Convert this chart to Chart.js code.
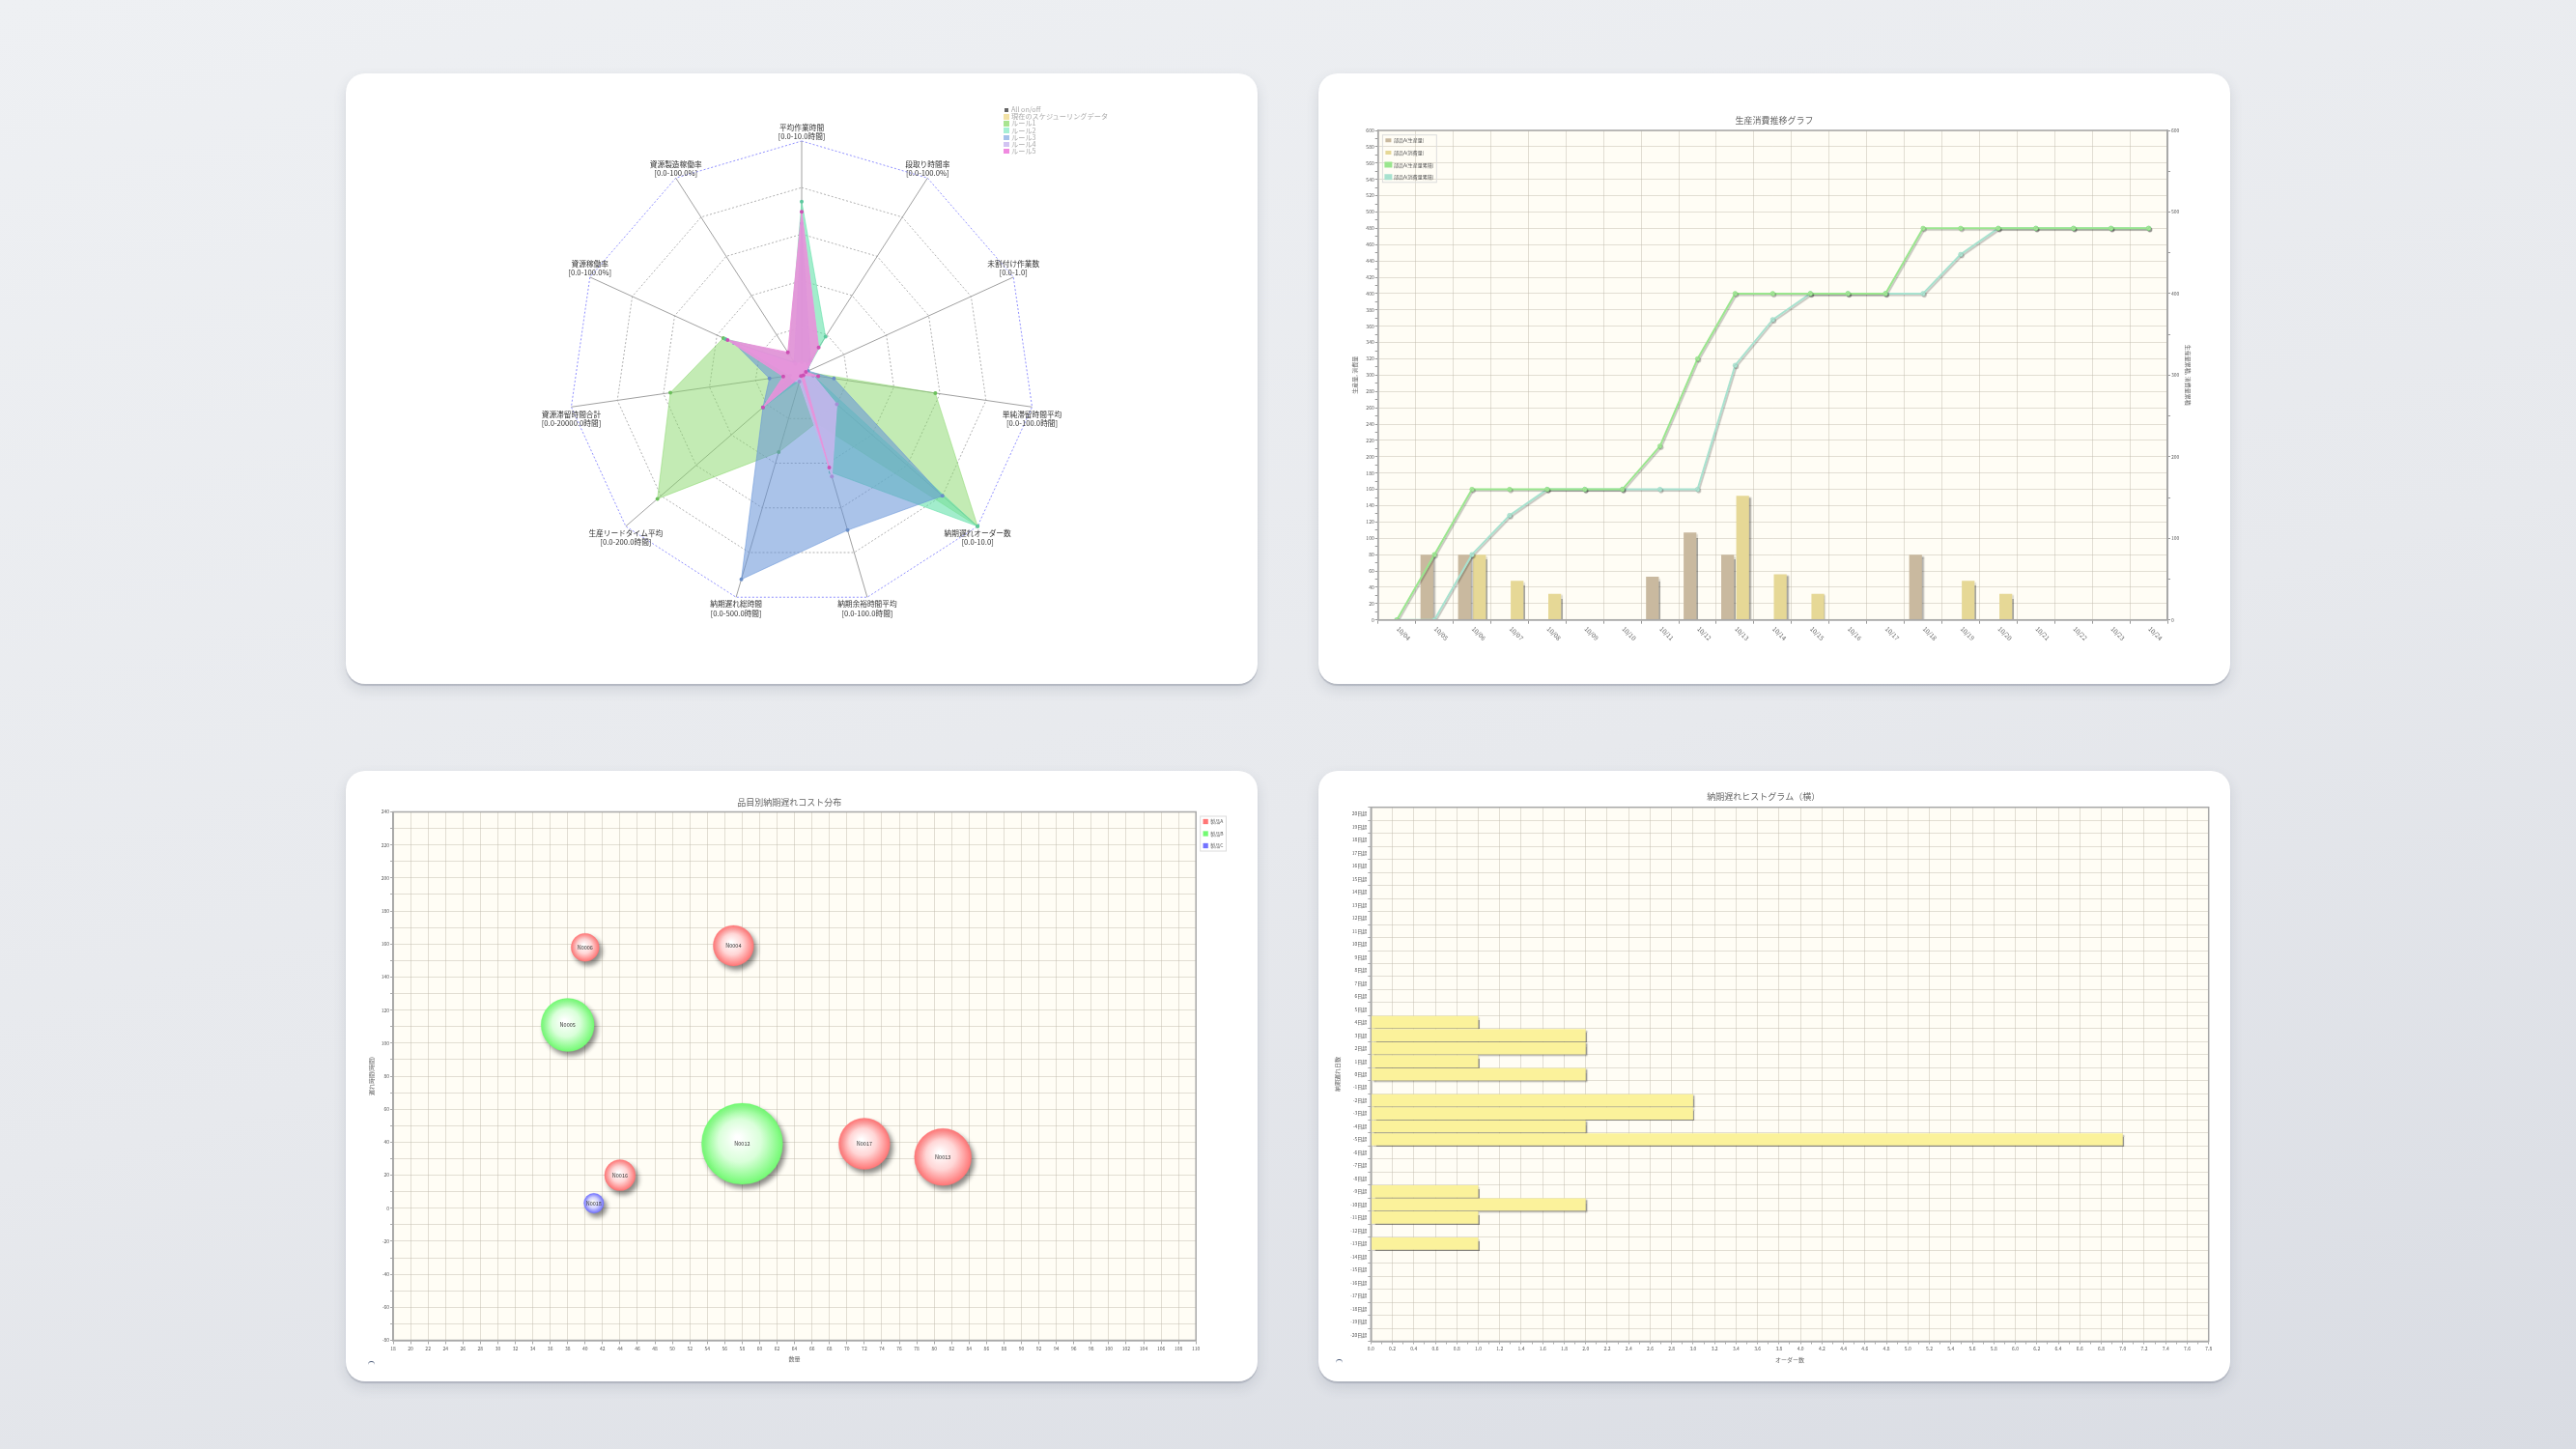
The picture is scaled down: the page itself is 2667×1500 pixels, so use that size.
<!DOCTYPE html>
<html><head><meta charset="utf-8">
<script src="https://cdn.jsdelivr.net/npm/chart.js@4.4.1/dist/chart.umd.min.js"></script>
<style>
html,body{margin:0;padding:0;}
body{width:2667px;height:1500px;position:relative;overflow:hidden;background:linear-gradient(165deg,#eef0f3 0%,#e7e9ed 55%,#d9dce3 100%);font-family:'Noto Sans CJK JP','Noto Sans',sans-serif;}
.card{position:absolute;width:944px;height:632px;background:#fff;border-radius:20px;box-shadow:0 2px 1px rgba(120,126,142,.35),0 6px 14px rgba(60,70,90,.14);}
.box{position:absolute;}
.rlegend{position:absolute;left:681px;top:34px;font-size:7.2px;line-height:7.2px;color:#a9a9a9;white-space:nowrap;}
.rlegend div{height:7.2px;display:flex;align-items:center;}
.rlegend span.sw{display:inline-block;width:6px;height:5.5px;margin-right:2px;}
.spin{position:absolute;width:7px;height:7px;border-radius:50%;border-top:1.5px solid #4a5a78;}
</style>
</head><body>
<div class="card" style="left:358px;top:76px;">
  <div class="box" style="left:0;top:0;width:944px;height:632px;"><canvas id="c1"></canvas></div>
  <div class="rlegend" id="rlegend"></div>
</div>
<div class="card" style="left:1365px;top:76px;">
  <div class="box" style="left:0;top:0;width:944px;height:632px;"><canvas id="c2"></canvas></div>
</div>
<div class="card" style="left:358px;top:798px;">
  <div class="box" style="left:0;top:0;width:944px;height:632px;"><canvas id="c3"></canvas></div>
  <div class="spin" style="left:23px;top:611px;"></div>
</div>
<div class="card" style="left:1365px;top:798px;">
  <div class="box" style="left:0;top:0;width:944px;height:632px;"><canvas id="c4"></canvas></div>
  <div class="spin" style="left:18px;top:609px;"></div>
</div>
<script>
// ---------------- DATA ----------------
// Radar (top-left)
const radarAxes = [
  ['平均作業時間','[0.0-10.0時間]'],
  ['段取り時間率','[0.0-100.0%]'],
  ['未割付け作業数','[0.0-1.0]'],
  ['単純滞留時間平均','[0.0-100.0時間]'],
  ['納期遅れオーダー数','[0.0-10.0]'],
  ['納期余裕時間平均','[0.0-100.0時間]'],
  ['納期遅れ総時間','[0.0-500.0時間]'],
  ['生産リードタイム平均','[0.0-200.0時間]'],
  ['資源滞留時間合計','[0.0-20000.0時間]'],
  ['資源稼働率','[0.0-100.0%]'],
  ['資源製造稼働率','[0.0-100.0%]']
];
const radarAxisMax = [10, 100, 1, 100, 10, 100, 500, 200, 20000, 100, 100];
const radarSeriesNames = ['現在のスケジューリングデータ','ルール1','ルール2','ルール3','ルール4','ルール5'];
const currentSchedule = [0, 0, 0, 0, 0, 0, 0, 0, 0, 0, 0];
const rule1 = [0.4, 3, 0.02, 58, 10, 22, 175, 164, 11400, 37, 5];
const rule2 = [7.4, 19, 0.02, 5, 10, 44, 15, 44, 1000, 36, 10];
const rule3 = [6.45, 7, 0.03, 14, 8, 70, 460, 44, 2800, 32, 6];
const rule4 = [0.5, 5, 0.02, 5, 2, 46, 17.5, 10, 1000, 30, 5];
const rule5 = [6.96, 13.5, 0.02, 7.2, 0.1, 42, 5, 44, 1600, 35, 11];

// Production / consumption (top-right)
const dates = ['10/04','10/05','10/06','10/07','10/08','10/09','10/10','10/11','10/12','10/13','10/14','10/15','10/16','10/17','10/18','10/19','10/20','10/21','10/22','10/23','10/24'];
const producedA   = [0, 80, 80, 0, 0, 0, 0, 53, 107, 80, 0, 0, 0, 0, 80, 0, 0, 0, 0, 0, 0];
const consumedA   = [0, 0, 80, 48, 32, 0, 0, 0, 0, 152, 56, 32, 0, 0, 0, 48, 32, 0, 0, 0, 0];
const producedCum = [0, 80, 160, 160, 160, 160, 160, 213, 320, 400, 400, 400, 400, 400, 480, 480, 480, 480, 480, 480, 480];
const consumedCum = [0, 0, 80, 128, 160, 160, 160, 160, 160, 312, 368, 400, 400, 400, 400, 448, 480, 480, 480, 480, 480];

// Bubble (bottom-left)
const productANames = ['N0006','N0004','N0017','N0013','N0016'];
const productAQty   = [40, 57, 72, 81, 44];
const productADelay = [158, 159, 39, 31, 20];
const productASize  = [14.5, 21, 26.5, 29.5, 16];
const productBNames = ['N0005','N0012'];
const productBQty   = [38, 58];
const productBDelay = [111, 39];
const productBSize  = [27.5, 42];
const productCNames = ['N0018'];
const productCQty   = [41];
const productCDelay = [3];
const productCSize  = [10.3];

// Histogram (bottom-right)
const delayBins = ['20日超','19日超','18日超','17日超','16日超','15日超','14日超','13日超','12日超','11日超','10日超','9日超','8日超','7日超','6日超','5日超','4日超','3日超','2日超','1日超','0日超','-1日超','-2日超','-3日超','-4日超','-5日超','-6日超','-7日超','-8日超','-9日超','-10日超','-11日超','-12日超','-13日超','-14日超','-15日超','-16日超','-17日超','-18日超','-19日超','-20日超'];
const orderCounts = [0,0,0,0,0,0,0,0,0,0,0,0,0,0,0,0,1,2,2,1,2,0,3,3,2,7,0,0,0,1,2,1,0,1,0,0,0,0,0,0,0];

// ---------------- SETUP ----------------
const FAM = "'Noto Sans CJK JP','Noto Sans',sans-serif";
Chart.defaults.font.family = FAM;
Chart.defaults.color = '#555';
Chart.defaults.animation = false;
const GRID = 'rgba(190,185,170,0.45)';

const plotFrame = {
  id:'plotFrame',
  beforeDraw(chart, a, o){ if(!o || !o.on) return; const {ctx, chartArea:c} = chart; ctx.save(); ctx.fillStyle = '#fffdf5'; ctx.fillRect(c.left, c.top, c.width, c.height); ctx.restore(); },
  afterDraw(chart, a, o){ if(!o || !o.on) return; const {ctx, chartArea:c} = chart; ctx.save(); ctx.strokeStyle = '#a8a8a8'; ctx.lineWidth = 1.5; ctx.strokeRect(c.left, c.top, c.width, c.height); ctx.restore(); }
};
const shadow = {
  id:'shadow',
  beforeDatasetDraw(chart, a, o){ if(!o || !o.on) return; const ds = chart.data.datasets[a.index] || {}; const s = Object.assign({}, o, ds.shadow || {}); const ctx = chart.ctx; ctx.save(); ctx.shadowColor = s.color; ctx.shadowOffsetX = s.x; ctx.shadowOffsetY = s.y; ctx.shadowBlur = s.blur; },
  afterDatasetDraw(chart, a, o){ if(!o || !o.on) return; chart.ctx.restore(); }
};
const legendBox = {
  id:'legendBox',
  afterDraw(chart, a, o){ if(!o || !o.on || !chart.legend || !chart.legend.legendHitBoxes) return; const hb = chart.legend.legendHitBoxes; if(!hb.length) return;
    let l=Infinity,t=Infinity,r=-Infinity,b=-Infinity; hb.forEach(h=>{l=Math.min(l,h.left);t=Math.min(t,h.top);r=Math.max(r,h.left+h.width);b=Math.max(b,h.top+h.height);});
    const ctx=chart.ctx; ctx.save(); ctx.strokeStyle='#dcdcdc'; ctx.lineWidth=1; ctx.strokeRect(l-o.padL, t-o.padT, r-l+o.padL+o.padR, b-t+o.padT+o.padB); ctx.restore(); }
};
const legendInArea = {
  id:'legendInArea',
  afterLayout(chart, a, o){ if(!o || !o.on || !chart.legend) return; const L = chart.legend, c = chart.chartArea; L.left = c.left; L.right = c.right; L.top = c.top; L.bottom = c.bottom; }
};
const rotLabels = {
  id:'rotLabels',
  afterDraw(chart, a, o){ if(!o || !o.on) return; const sx = chart.scales.x, ctx = chart.ctx; ctx.save(); ctx.font = '6.5px ' + FAM; ctx.fillStyle = '#666'; ctx.textAlign='left'; ctx.textBaseline='middle';
    chart.data.labels.forEach((lab,i)=>{ const x = sx.getPixelForTick(i); ctx.save(); ctx.translate(x+1, chart.chartArea.bottom+8); ctx.rotate(Math.PI/4); ctx.fillText(lab,0,0); ctx.restore(); });
    ctx.restore(); }
};
const bubbleNames = {
  id:'bubbleNames',
  afterDatasetsDraw(chart, a, o){ if(!o || !o.on) return; const ctx = chart.ctx; ctx.save(); ctx.font='5.5px '+FAM; ctx.fillStyle='#333'; ctx.textAlign='center'; ctx.textBaseline='middle';
    chart.data.datasets.forEach((ds,di)=>{ chart.getDatasetMeta(di).data.forEach((el,i)=>{ ctx.fillText(ds.names[i], el.x, el.y); }); });
    ctx.restore(); }
};
const radarLabels = {
  id:'radarLabels',
  afterDraw(chart, a, o){ if(!o || !o.on) return; const s = chart.scales.r, ctx = chart.ctx; ctx.save(); ctx.font = '7.7px ' + FAM; ctx.fillStyle = '#333'; ctx.textAlign='center'; ctx.textBaseline='middle';
    chart.data.labels.forEach((lines,i)=>{ const p = s.getPointPosition(i, s.drawingArea); const up = p.y < s.yCenter - 1; const n = lines.length;
      lines.forEach((t,j)=>{ const y = up ? p.y - 4.7 - (n-1-j)*9.3 : p.y + 7.3 + j*9.3; ctx.fillText(t, p.x, y); }); });
    ctx.restore(); }
};

// ---------------- RADAR ----------------
const radarFill   = ['rgba(240,220,140,0.55)','rgba(135,215,105,0.5)','rgba(100,225,170,0.6)','rgba(100,145,215,0.55)','rgba(198,182,238,0.88)','rgba(232,146,218,0.92)'];
const radarPoint  = ['#d8c070','#6cbf5c','#5cc89e','#6a8fc8','#a48ed6','#cc4fb4'];
const radarSwatch = ['#f2e2a6','#a8e490','#a6f0d4','#a6c2ea','#d2c4f2','#f08ae0'];
const radarRaw = [currentSchedule, rule1, rule2, rule3, rule4, rule5];
const radarOrder = [5, 4, 3, 2, 1, 0];
new Chart(document.getElementById('c1'), {
  type:'radar',
  data:{
    labels: radarAxes,
    datasets: radarSeriesNames.map((name, k) => ({
      label: name,
      data: radarRaw[k].map((v,i)=> v / radarAxisMax[i]),
      backgroundColor: radarFill[k],
      borderColor: radarFill[k],
      borderWidth: 1,
      pointBackgroundColor: radarPoint[k],
      pointBorderColor: radarPoint[k],
      pointRadius: 2,
      pointBorderWidth: 0,
      fill: true,
      order: radarOrder[k]
    }))
  },
  options:{
    responsive:true, maintainAspectRatio:false, animation:false, events:[],
    layout:{padding:{left:231, right:230, top:69.5, bottom:79.5}},
    plugins:{legend:{display:false}, tooltip:{enabled:false}, radarLabels:{on:true}},
    scales:{
      r:{
        min:0, max:1,
        ticks:{display:false, stepSize:0.2},
        grid:{color:(c)=> c.index===5 ? 'rgba(110,110,255,0.75)' : '#b0b0b0', lineWidth:1},
        border:{dash:[2,2]},
        angleLines:{color:'#a0a0a0', lineWidth:1},
        pointLabels:{display:false}
      }
    }
  },
  plugins:[radarLabels]
});
// radar legend (HTML)
(function(){
  const el = document.getElementById('rlegend');
  let h = '<div><span class="sw" style="width:4px;height:4px;background:#666;margin-left:1px;margin-right:3px"></span>All on/off</div>';
  radarSeriesNames.forEach((n,k)=>{ h += '<div><span class="sw" style="background:'+radarSwatch[k]+'"></span>'+n+'</div>'; });
  el.innerHTML = h;
})();

// ---------------- PRODUCTION / CONSUMPTION ----------------
const lineShadow = {color:'rgba(0,0,0,0.22)', x:1.3, y:1.5, blur:0.8};
new Chart(document.getElementById('c2'), {
  type:'bar',
  data:{
    labels: dates,
    datasets:[
      {label:'部品A(生産量)', data: producedA, backgroundColor:'#c9b99f', order:1, yAxisID:'y', barPercentage:0.85},
      {label:'部品A(消費量)', data: consumedA, backgroundColor:'#e6d896', order:1, yAxisID:'y', barPercentage:0.85},
      {type:'line', label:'部品A(生産量累積)', data: producedCum, borderColor:'#9ae68e', backgroundColor:'#9ae68e', pointBackgroundColor:'#a6ec9a', pointBorderColor:'#8ad87e', pointBorderWidth:0.5, pointRadius:2.3, borderWidth:2, tension:0, order:0, yAxisID:'y2', shadow:lineShadow},
      {type:'line', label:'部品A(消費量累積)', data: consumedCum, borderColor:'#a8e2cf', backgroundColor:'#a8e2cf', pointBackgroundColor:'#b2e8d6', pointBorderColor:'#96d4c0', pointBorderWidth:0.5, pointRadius:2.3, borderWidth:2, tension:0, order:0, yAxisID:'y2', shadow:lineShadow}
    ]
  },
  options:{
    responsive:true, maintainAspectRatio:false, animation:false, events:[],
    layout:{padding:0},
    plugins:{
      title:{display:true, text:'生産消費推移グラフ', color:'#666', font:{size:9, weight:'normal', lineHeight:1.2}, padding:{top:43.6, bottom:4.6}},
      legend:{position:'chartArea', align:'start', labels:{boxWidth:6, boxHeight:4, font:{size:5}, padding:7.7, color:'#555', sort:(a,b)=>a.datasetIndex-b.datasetIndex}},
      tooltip:{enabled:false},
      plotFrame:{on:true},
      shadow:{on:true, color:'rgba(0,0,0,0.35)', x:1.8, y:1.8, blur:1.5},
      rotLabels:{on:true},
      legendInArea:{on:true},
      legendBox:{on:true, padL:3, padR:3, padT:3, padB:3}
    },
    scales:{
      x:{
        grid:{color:GRID, tickColor:'#999', tickLength:4},
        border:{color:'#999', width:1.5},
        ticks:{display:false},
        afterFit:(s)=>{ s.height = 66.3; }
      },
      y:{
        position:'left', min:0, max:600,
        ticks:{stepSize:10, autoSkip:false, font:{size:5}, color:'#555', padding:1, callback:(v)=> v%20===0 ? v : ''},
        grid:{color:(c)=> (c.tick && c.tick.value%20!==0) ? 'rgba(0,0,0,0)' : GRID, tickColor:'#999', tickLength:3},
        border:{color:'#999', width:1.5},
        title:{display:true, text:'生産量, 消費量', color:'#666', font:{size:6}, padding:{top:34.4, bottom:0}},
        afterFit:(s)=>{ s.width = 61.7; }
      },
      y2:{
        position:'right', min:0, max:600,
        ticks:{stepSize:50, autoSkip:false, font:{size:5}, color:'#555', padding:1, callback:(v)=> v%100===0 ? v : ''},
        grid:{drawOnChartArea:false, tickColor:'#999', tickLength:3},
        border:{color:'#999', width:1.5},
        title:{display:true, text:'生産量累積, 消費量累積', color:'#666', font:{size:6}, padding:{top:40.4, bottom:0}},
        afterFit:(s)=>{ s.width = 65; }
      }
    }
  },
  plugins:[plotFrame, shadow, rotLabels, legendInArea, legendBox]
});

// ---------------- BUBBLE ----------------
function bubbleFill(base, light){
  return (c) => {
    const chart = c.chart;
    if (c.type !== 'data' || !c.raw || !chart.chartArea) return base;
    const x = chart.scales.x.getPixelForValue(c.raw.x), y = chart.scales.y.getPixelForValue(c.raw.y), r = c.raw.r;
    const g = chart.ctx.createRadialGradient(x - r*0.12, y - r*0.15, r*0.05, x, y, r);
    g.addColorStop(0, '#ffffff');
    g.addColorStop(0.5, light);
    g.addColorStop(1, base);
    return g;
  };
}
function pts(q, d, s){ return q.map((v,i)=>({x:v, y:d[i], r:s[i]})); }
new Chart(document.getElementById('c3'), {
  type:'bubble',
  data:{
    datasets:[
      {label:'製品A', names: productANames, data: pts(productAQty, productADelay, productASize), backgroundColor: bubbleFill('rgb(255,118,118)','rgb(255,214,214)'), borderColor:'rgba(255,118,118,0.6)', borderWidth:0.5},
      {label:'製品B', names: productBNames, data: pts(productBQty, productBDelay, productBSize), backgroundColor: bubbleFill('rgb(115,250,115)','rgb(218,255,218)'), borderColor:'rgba(115,250,115,0.6)', borderWidth:0.5},
      {label:'製品C', names: productCNames, data: pts(productCQty, productCDelay, productCSize), backgroundColor: bubbleFill('rgb(115,115,255)','rgb(214,214,255)'), borderColor:'rgba(115,115,255,0.6)', borderWidth:0.5}
    ]
  },
  options:{
    responsive:true, maintainAspectRatio:false, animation:false, events:[],
    layout:{padding:{right:25.5}},
    plugins:{
      title:{display:true, text:'品目別納期遅れコスト分布', color:'#666', font:{size:9, weight:'normal', lineHeight:1.2}, padding:{top:22.6, bottom:4.3}},
      legend:{position:'right', align:'start', fullSize:false, labels:{boxWidth:5, boxHeight:5, font:{size:5}, padding:7.5, color:'#555'}},
      tooltip:{enabled:false},
      plotFrame:{on:true},
      shadow:{on:true, color:'rgba(0,0,0,0.45)', x:3, y:4, blur:5},
      bubbleNames:{on:true},
      legendBox:{on:true, padL:3, padR:3, padT:3, padB:3}
    },
    scales:{
      x:{
        min:18, max:110,
        ticks:{stepSize:2, autoSkip:false, maxRotation:0, font:{size:5}, color:'#555', padding:1.7},
        grid:{color:GRID, tickColor:'#aaa', tickLength:4},
        border:{color:'#999', width:1.5},
        title:{display:true, text:'数量', color:'#666', font:{size:6}, padding:{top:0, bottom:18.4}},
        afterFit:(s)=>{ s.height = 41.5; }
      },
      y:{
        min:-80, max:240,
        ticks:{stepSize:10, autoSkip:false, font:{size:5}, color:'#555', padding:1, callback:(v)=> v%20===0 ? v : ''},
        grid:{color:GRID, tickColor:'#aaa', tickLength:3},
        border:{color:'#999', width:1.5},
        title:{display:true, text:'遅れ時間(時間)', color:'#666', font:{size:6}, padding:{top:23.1, bottom:0}},
        afterFit:(s)=>{ s.width = 49; }
      }
    }
  },
  plugins:[plotFrame, shadow, bubbleNames, legendBox]
});

// ---------------- HISTOGRAM ----------------
new Chart(document.getElementById('c4'), {
  type:'bar',
  data:{
    labels: delayBins,
    datasets:[{label:'オーダー数', data: orderCounts, backgroundColor:'#fbf29b', barPercentage:0.94, categoryPercentage:1}]
  },
  options:{
    indexAxis:'y',
    responsive:true, maintainAspectRatio:false, animation:false, events:[],
    layout:{padding:{right:22.3}},
    plugins:{
      title:{display:true, text:'納期遅れヒストグラム（横）', color:'#666', font:{size:9, weight:'normal', lineHeight:1.2}, padding:{top:21.6, bottom:5.3}},
      legend:{display:false},
      tooltip:{enabled:false},
      plotFrame:{on:true},
      shadow:{on:true, color:'rgba(0,0,0,0.4)', x:1.8, y:1.5, blur:1.5}
    },
    scales:{
      x:{
        min:0, max:7.8,
        ticks:{stepSize:0.1, autoSkip:false, maxRotation:0, font:{size:5}, color:'#555', padding:1.7, callback:(v)=> Math.round(v*10)%2===0 ? v.toFixed(1) : ''},
        grid:{color:(c)=> (c.tick && Math.round(c.tick.value*10)%2!==0) ? 'rgba(0,0,0,0)' : GRID, tickColor:'#aaa', tickLength:3},
        border:{color:'#999', width:1.5},
        title:{display:true, text:'オーダー数', color:'#666', font:{size:6}, padding:{top:0, bottom:18.4}},
        afterFit:(s)=>{ s.height = 41.5; }
      },
      y:{
        ticks:{autoSkip:false, font:{size:5}, color:'#555', padding:1},
        grid:{color:GRID, tickColor:'#aaa', tickLength:3},
        border:{color:'#999', width:1.5},
        title:{display:true, text:'納期遅れ日数', color:'#666', font:{size:6}, padding:{top:16.4, bottom:0}},
        afterFit:(s)=>{ s.width = 54.3; }
      }
    }
  },
  plugins:[plotFrame, shadow]
});
</script>
</body></html>
